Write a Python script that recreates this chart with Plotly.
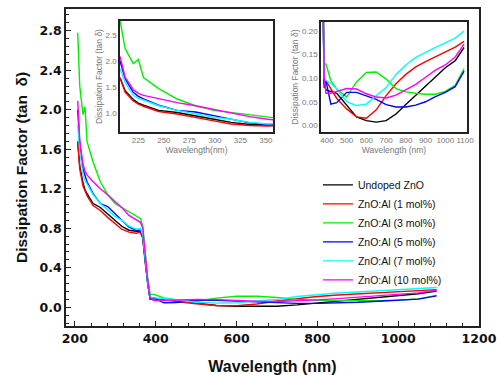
import plotly.graph_objects as go

# ---- data ----
wavelength = [207, 212, 220, 225, 230, 245, 263, 281, 299, 316, 334, 352, 362, 368, 374, 380, 386,
              395, 420, 450, 500, 550, 600, 650, 700, 750, 800, 850, 900, 950, 1000, 1050, 1095]

undoped = [1.68, 1.43, 1.26, 1.19, 1.15, 1.05, 1.01, 0.94, 0.88, 0.82, 0.78, 0.77, 0.77, 0.70, 0.45, 0.25, 0.09,
           0.075, 0.072, 0.068, 0.043, 0.018, 0.010, 0.007, 0.010, 0.024, 0.044, 0.064, 0.084, 0.104, 0.122, 0.137, 0.165]
al_1 = [1.68, 1.40, 1.23, 1.17, 1.13, 1.03, 0.98, 0.91, 0.85, 0.79, 0.76, 0.75, 0.76, 0.70, 0.45, 0.25, 0.10,
        0.095, 0.078, 0.057, 0.035, 0.018, 0.015, 0.033, 0.063, 0.088, 0.108, 0.124, 0.135, 0.145, 0.156, 0.166, 0.178]
al_3 = [2.78, 2.24, 1.95, 2.03, 1.68, 1.47, 1.27, 1.14, 1.05, 1.01, 0.97, 0.92, 0.90, 0.82, 0.55, 0.30, 0.13,
        0.13, 0.095, 0.077, 0.060, 0.092, 0.112, 0.113, 0.098, 0.078, 0.071, 0.068, 0.066, 0.066, 0.072, 0.085, 0.12]
al_5 = [2.00, 1.66, 1.40, 1.32, 1.27, 1.15, 1.05, 1.02, 0.95, 0.88, 0.81, 0.78, 0.78, 0.72, 0.45, 0.25, 0.08,
        0.095, 0.045, 0.048, 0.070, 0.070, 0.062, 0.055, 0.044, 0.039, 0.039, 0.043, 0.050, 0.061, 0.070, 0.082, 0.115]
al_7 = [1.85, 1.59, 1.34, 1.28, 1.25, 1.14, 1.05, 0.98, 0.92, 0.88, 0.82, 0.79, 0.80, 0.73, 0.47, 0.26, 0.10,
        0.095, 0.089, 0.077, 0.050, 0.042, 0.045, 0.063, 0.080, 0.108, 0.128, 0.144, 0.155, 0.165, 0.175, 0.185, 0.20]
al_10 = [2.09, 1.69, 1.45, 1.38, 1.34, 1.27, 1.20, 1.14, 1.07, 1.01, 0.93, 0.88, 0.86, 0.80, 0.52, 0.28, 0.10,
         0.068, 0.068, 0.072, 0.078, 0.077, 0.067, 0.060, 0.058, 0.064, 0.075, 0.087, 0.102, 0.117, 0.128, 0.145, 0.172]

series_names = ["Undoped ZnO", "ZnO:Al (1 mol%)", "ZnO:Al (3 mol%)",
                "ZnO:Al (5 mol%)", "ZnO:Al (7 mol%)", "ZnO:Al (10 mol%)"]
series_values = [undoped, al_1, al_3, al_5, al_7, al_10]
series_colors = ["#000000", "#ff0000", "#00ee00", "#0000ff", "#00ffff", "#ff00ff"]

main_x_ticks = [200, 400, 600, 800, 1000, 1200]
main_y_ticks = [0.0, 0.4, 0.8, 1.2, 1.6, 2.0, 2.4, 2.8]
inset1_x_ticks = [225, 250, 275, 300, 325, 350]
inset1_y_ticks = [1.0, 1.5, 2.0, 2.5]
inset2_x_ticks = [400, 500, 600, 700, 800, 900, 1000, 1100]
inset2_y_ticks = [0.00, 0.05, 0.10, 0.15, 0.20]

fig = go.Figure()

for name, vals, col in zip(series_names, series_values, series_colors):
    fig.add_trace(go.Scatter(x=wavelength, y=vals, mode="lines", name=name,
                             line=dict(color=col, width=1.4), xaxis="x", yaxis="y"))
for name, vals, col in zip(series_names, series_values, series_colors):
    fig.add_trace(go.Scatter(x=wavelength, y=vals, mode="lines", name=name, showlegend=False,
                             line=dict(color=col, width=1.4), xaxis="x2", yaxis="y2"))
for name, vals, col in zip(series_names, series_values, series_colors):
    fig.add_trace(go.Scatter(x=wavelength, y=vals, mode="lines", name=name, showlegend=False,
                             line=dict(color=col, width=1.4), xaxis="x3", yaxis="y3"))

main_tick_font = dict(family="DejaVu Sans", size=12.5, color="#111", weight="bold")
inset_tick_font = dict(family="Liberation Sans", size=8, color="#777")
inset_title_font = dict(family="Liberation Sans", size=8.5, color="#777")

frame = dict(showline=True, linecolor="#222", linewidth=1.5, mirror=True,
             showgrid=False, zeroline=False, automargin=False)

fig.update_layout(
    width=497, height=375,
    margin=dict(l=66, r=18, t=9, b=49, autoexpand=False),
    paper_bgcolor="white", plot_bgcolor="white",
    showlegend=True,
    legend=dict(x=0.61, y=0.491, xanchor="left", yanchor="top",
                bgcolor="rgba(0,0,0,0)", borderwidth=0,
                font=dict(family="Liberation Sans", size=10.5, color="#111"),
                tracegroupgap=0),
    xaxis=dict(range=[178, 1200], tickvals=main_x_ticks, ticks="inside", ticklen=5, tickwidth=1.2,
               tickcolor="#222", tickfont=main_tick_font, **frame,
               minor=dict(dtick=40, tick0=200, ticks="inside", ticklen=3, tickcolor="#222", showgrid=False),
               title=dict(text="Wavelength (nm)", standoff=16,
                          font=dict(family="Liberation Sans", size=16, color="#111", weight="bold"))),
    yaxis=dict(range=[-0.19, 3.02], tickvals=main_y_ticks, ticktext=[f"{v:.1f}" for v in main_y_ticks],
               ticks="inside", ticklen=5, tickwidth=1.2, tickcolor="#222", tickfont=main_tick_font, **frame,
               minor=dict(dtick=0.08, tick0=0, ticks="inside", ticklen=3, tickcolor="#222", showgrid=False),
               title=dict(text="Dissipation Factor (tan  δ)", standoff=8,
                          font=dict(family="Liberation Sans", size=15.5, color="#111", weight="bold"))),
    xaxis2=dict(domain=[0.1308, 0.5012], anchor="y2", range=[207, 357], tickvals=inset1_x_ticks,
                ticks="", tickangle=0, tickfont=inset_tick_font, **frame,
                title=dict(text="Wavelength(nm)", standoff=2, font=inset_title_font)),
    yaxis2=dict(domain=[0.612, 0.962], anchor="x2", range=[0.635, 2.77], tickvals=inset1_y_ticks,
                ticktext=[f"{v:.1f}" for v in inset1_y_ticks],
                ticks="", tickfont=inset_tick_font, **frame,
                title=dict(text="Dissipation Factor (tan δ)", standoff=2, font=inset_title_font)),
    xaxis3=dict(domain=[0.6174, 0.971], anchor="y3", range=[370, 1110], tickvals=inset2_x_ticks,
                ticks="", tickangle=0, tickfont=inset_tick_font, **frame,
                title=dict(text="Wavelength (nm)", standoff=2, font=inset_title_font)),
    yaxis3=dict(domain=[0.612, 0.959], anchor="x3", range=[-0.014, 0.219], tickvals=inset2_y_ticks,
                ticktext=[f"{v:.2f}" for v in inset2_y_ticks],
                ticks="", tickfont=inset_tick_font, **frame,
                title=dict(text="Dissipation Factor (tan δ)", standoff=2, font=inset_title_font)),
)

fig.write_html("out.html", config={"displayModeBar": False},
               post_script="document.body.style.margin='0';")
